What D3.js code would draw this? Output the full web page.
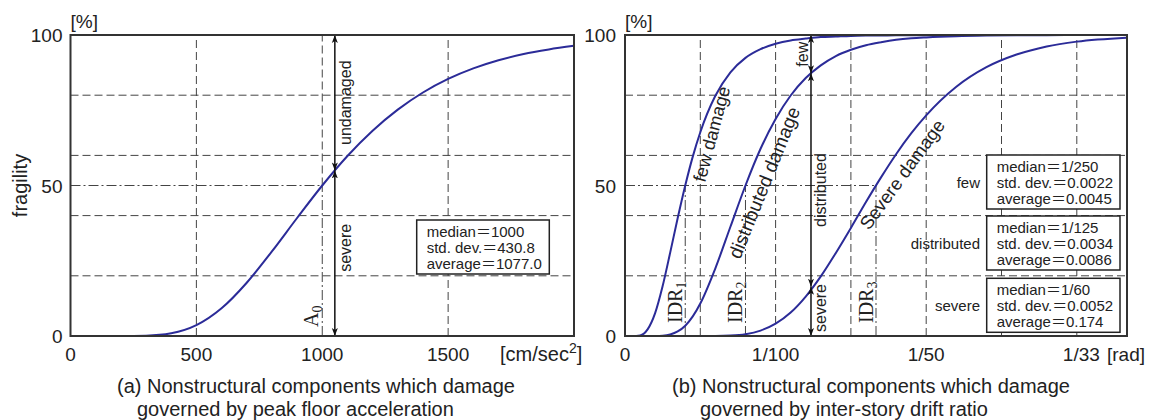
<!DOCTYPE html>
<html>
<head>
<meta charset="utf-8">
<script src="https://cdnjs.cloudflare.com/ajax/libs/d3/7.8.5/d3.min.js"></script>
<style>
  body { margin: 0; background: #fff; }
  svg text { font-family: "Liberation Sans", Arial, "Noto Sans CJK JP", sans-serif; fill: #222; }
  svg text.serif { font-family: "Liberation Serif", "Times New Roman", serif; }
</style>
</head>
<body>
<script>
// ---- data ----

// (a) peak floor acceleration [cm/sec2] vs fragility [%]
var accel = [0, 100, 200, 300, 400, 500, 600, 700, 800, 900, 1000, 1100, 1200, 1300, 1400, 1500, 1600, 1700, 1800, 1900, 2000];
var accelFragility = [0, 0, 0, 0.1, 0.9, 3.6, 9.2, 17.7, 28.1, 39.2, 50, 59.8, 68.2, 75.2, 80.9, 85.4, 88.9, 91.6, 93.7, 95.2, 96.4];
var accelTicks = [0, 500, 1000, 1500];
var accelGrid = [500, 1500];
var accelMedian = 1000;
var accelArrow = [1050, 55];   // x, fragility where the arrow meets the curve
var accelStats = ["median\uFF1D1000", "std. dev.\uFF1D430.8", "average\uFF1D1077.0"];

// (b) inter-story drift ratio [rad] vs fragility [%]
var drift = [0, 0.0005, 0.001, 0.0015, 0.002, 0.0025, 0.003, 0.0035, 0.004, 0.0045, 0.005, 0.006, 0.007, 0.008, 0.009, 0.010,
             0.011, 0.012, 0.013, 0.014, 0.015, 0.016, 0.017, 0.018, 0.019, 0.020, 0.022, 0.024, 0.026, 0.028, 0.030, 0.0333];
var fewFragility = [0, 0, 0.2, 2.2, 7.6, 16.6, 27.7, 39.2, 50, 59.6, 67.7, 79.8, 87.6, 92.4, 95.3, 97.1,
                    98.2, 98.8, 99.3, 99.5, 99.7, 99.8, 99.85, 99.9, 99.93, 99.95, 99.97, 99.99, 100, 100, 100, 100];
var distFragility = [0, 0, 0, 0, 0.01, 0.1, 0.5, 1.5, 3.4, 6.5, 10.8, 22.5, 36.3, 50, 62.2, 72.1,
                     79.9, 85.7, 89.9, 93.0, 95.1, 96.6, 97.6, 98.4, 98.9, 99.2, 99.6, 99.8, 99.9, 99.95, 99.98, 99.99];
var severeFragility = [0, 0, 0, 0, 0, 0, 0, 0, 0, 0, 0, 0.02, 0.15, 0.6, 1.8, 4.1,
                       7.8, 13.1, 19.8, 27.6, 35.9, 44.5, 52.7, 60.4, 67.3, 73.3, 82.8, 89.3, 93.5, 96.2, 97.8, 99.1];
var driftTicks = [0, 0.01, 0.02, 1 / 33];
var driftTickLabels = ["0", "1/100", "1/50", "1/33"];
var driftGrid = [0.005, 0.01, 0.015, 0.02, 0.025, 0.03];
var idrMedians = [0.004, 0.008, 1 / 60];
var driftArrowX = 0.01235;
var driftArrowStops = [100, 87.3, 16.4, 0];
var driftArrowLabels = ["few", "distributed", "severe"];
var driftStatLabels = ["few", "distributed", "severe"];
var driftStats = [
  ["median\uFF1D1/250", "std. dev.\uFF1D0.0022", "average\uFF1D0.0045"],
  ["median\uFF1D1/125", "std. dev.\uFF1D0.0034", "average\uFF1D0.0086"],
  ["median\uFF1D1/60", "std. dev.\uFF1D0.0052", "average\uFF1D0.174"]
];

var pctTicks = [0, 50, 100];
var pctGrid = [20, 40, 60, 80];

// ---- layout ----
var width = 1152, height = 420;
var plotTop = 35, plotBottom = 336;
var curveColor = "#2b2b98";
var gridColor = "#444";
var dash = "8,4", dashDot = "10,3,2,3";

var svg = d3.select("body").append("svg")
  .attr("width", width)
  .attr("height", height);

// arrow head marker
svg.append("defs").append("marker")
  .attr("id", "head")
  .attr("markerUnits", "userSpaceOnUse")
  .attr("markerWidth", 9).attr("markerHeight", 7)
  .attr("refX", 8).attr("refY", 3.5)
  .attr("orient", "auto-start-reverse")
  .append("path")
  .attr("d", "M0,0.5 L8,3.5 L0,6.5 L2,3.5 Z")
  .attr("fill", "#111");

var y = d3.scaleLinear().domain([0, 100]).range([plotBottom, plotTop]);

function hLine(g, x1, x2, v, style) {
  g.append("line").attr("x1", x1).attr("x2", x2).attr("y1", y(v)).attr("y2", y(v))
    .attr("stroke", gridColor).attr("stroke-width", 1).attr("stroke-dasharray", style);
}
function vLine(g, xv, v1, v2, style) {
  g.append("line").attr("x1", xv).attr("x2", xv).attr("y1", y(v1)).attr("y2", y(v2))
    .attr("stroke", gridColor).attr("stroke-width", 1).attr("stroke-dasharray", style);
}
function rotLabel(g, x0, y0, angle, txt, size, anchor) {
  return g.append("text")
    .attr("transform", "translate(" + x0 + "," + y0 + ") rotate(" + angle + ")")
    .attr("text-anchor", anchor || "start")
    .style("font-size", size + "px")
    .text(txt);
}
function subLabel(g, x0, y0, main, sub) {
  var t = g.append("text").attr("class", "serif")
    .attr("transform", "translate(" + x0 + "," + y0 + ") rotate(-90)")
    .style("font-size", "20px");
  t.append("tspan").text(main);
  t.append("tspan").attr("dy", 4).style("font-size", "14px").text(sub);
}
function arrow(g, xv, v1, v2) {
  g.append("line").attr("x1", xv).attr("x2", xv).attr("y1", y(v1)).attr("y2", y(v2))
    .attr("stroke", "#111").attr("stroke-width", 1.5)
    .attr("marker-start", "url(#head)").attr("marker-end", "url(#head)");
}
function statBox(g, x0, y0, w, h, lines) {
  g.append("rect").attr("x", x0).attr("y", y0).attr("width", w).attr("height", h)
    .attr("fill", "#fff").attr("stroke", "#222").attr("stroke-width", 1.5);
  lines.forEach(function(s, i) {
    g.append("text").attr("x", x0 + 10).attr("y", y0 + 16.5 + i * 16)
      .style("font-size", "15px").text(s);
  });
}

// ================= (a) acceleration =================
var xa = d3.scaleLinear().domain([0, 2000]).range([70.5, 574]);
var ga = svg.append("g");

accelGrid.forEach(function(v) { vLine(ga, xa(v), 0, 100, dash); });
vLine(ga, xa(accelMedian), 50, 100, dash);
vLine(ga, xa(accelMedian), 0, 50, dashDot);
pctGrid.forEach(function(v) { hLine(ga, xa(0), xa(2000), v, dash); });
hLine(ga, xa(0), xa(accelMedian), 50, dashDot);

ga.append("path")
  .datum(accel.map(function(d, i) { return [d, accelFragility[i]]; }))
  .attr("fill", "none").attr("stroke", curveColor).attr("stroke-width", 2)
  .attr("d", d3.line().x(function(d) { return xa(d[0]); }).y(function(d) { return y(d[1]); }).curve(d3.curveMonotoneX));

arrow(ga, xa(accelArrow[0]), 100, accelArrow[1]);
arrow(ga, xa(accelArrow[0]), accelArrow[1], 0);
rotLabel(ga, xa(accelArrow[0]) + 16, y(77.5), -90, "undamaged", 16, "middle");
rotLabel(ga, xa(accelArrow[0]) + 16, y(29.3), -90, "severe", 16, "middle");
subLabel(ga, xa(accelMedian) - 4, y(3), "A", "0");

statBox(ga, 416.7, 220, 132.6, 54, accelStats);

ga.append("rect").attr("x", xa(0)).attr("y", plotTop).attr("width", xa(2000) - xa(0)).attr("height", plotBottom - plotTop)
  .attr("fill", "none").attr("stroke", "#333").attr("stroke-width", 2);

pctTicks.forEach(function(v) {
  ga.append("text").attr("x", xa(0) - 8).attr("y", y(v) + 7).attr("text-anchor", "end")
    .style("font-size", "19px").text(v);
});
accelTicks.forEach(function(v) {
  ga.append("text").attr("x", xa(v)).attr("y", 361).attr("text-anchor", "middle")
    .style("font-size", "19px").text(v);
});
var ua = ga.append("text").attr("x", 500).attr("y", 361).style("font-size", "20px");
ua.append("tspan").text("[cm/sec");
ua.append("tspan").attr("dy", -8).style("font-size", "14px").text("2");
ua.append("tspan").attr("dy", 8).text("]");
ga.append("text").attr("x", xa(0)).attr("y", 28).style("font-size", "19px").text("[%]");
rotLabel(ga, 27, y(50), -90, "fragility", 20, "middle");

ga.append("text").attr("x", 117).attr("y", 393).style("font-size", "20px")
  .text("(a) Nonstructural components which damage");
ga.append("text").attr("x", 137).attr("y", 416).style("font-size", "20px")
  .text("governed by peak floor acceleration");

// ================= (b) drift ratio =================
var xb = d3.scaleLinear().domain([0, 1 / 30]).range([625, 1127]);
var gb = svg.append("g");

driftGrid.forEach(function(v) { vLine(gb, xb(v), 0, 100, dash); });
pctGrid.forEach(function(v) { hLine(gb, xb(0), xb(1 / 30), v, dash); });
hLine(gb, xb(0), xb(idrMedians[2]), 50, dashDot);
idrMedians.forEach(function(v) { vLine(gb, xb(v), 0, 50, dashDot); });

var lineB = d3.line().x(function(d) { return xb(d[0]); }).y(function(d) { return y(d[1]); }).curve(d3.curveMonotoneX);
[fewFragility, distFragility, severeFragility].forEach(function(series) {
  gb.append("path")
    .datum(drift.map(function(d, i) { return [d, series[i]]; }))
    .attr("fill", "none").attr("stroke", curveColor).attr("stroke-width", 2)
    .attr("d", lineB);
});

rotLabel(gb, 705, 183, -75, "few damage", 18);
rotLabel(gb, 740, 260, -68, "distributed damage", 19);
rotLabel(gb, 869, 231, -54, "Severe damage", 18.5);

for (var k = 0; k < 3; k++) {
  arrow(gb, xb(driftArrowX), driftArrowStops[k], driftArrowStops[k + 1]);
}
rotLabel(gb, xb(driftArrowX) - 3, y(93.6), -90, driftArrowLabels[0], 16, "middle");
rotLabel(gb, xb(driftArrowX) + 15, y(48.5), -90, driftArrowLabels[1], 16, "middle");
rotLabel(gb, xb(driftArrowX) + 15, y(9.3), -90, driftArrowLabels[2], 16, "middle");

subLabel(gb, xb(idrMedians[0]) - 3, 323, "IDR", "1");
subLabel(gb, xb(idrMedians[1]) - 3, 323, "IDR", "2");
subLabel(gb, xb(idrMedians[2]) - 3, 323, "IDR", "3");

var boxTops = [155, 216, 278.3];
driftStats.forEach(function(lines, i) {
  statBox(gb, 986.7, boxTops[i], 133.3, 54, lines);
  gb.append("text").attr("x", 980).attr("y", boxTops[i] + 33).attr("text-anchor", "end")
    .style("font-size", "15px").text(driftStatLabels[i]);
});

gb.append("rect").attr("x", xb(0)).attr("y", plotTop).attr("width", xb(1 / 30) - xb(0)).attr("height", plotBottom - plotTop)
  .attr("fill", "none").attr("stroke", "#333").attr("stroke-width", 2);

pctTicks.forEach(function(v) {
  gb.append("text").attr("x", xb(0) - 9).attr("y", y(v) + 7).attr("text-anchor", "end")
    .style("font-size", "19px").text(v);
});
driftTicks.forEach(function(v, i) {
  gb.append("text").attr("x", xb(v)).attr("y", 361).attr("text-anchor", "middle")
    .style("font-size", "19px").text(driftTickLabels[i]);
});
gb.append("text").attr("x", 1107).attr("y", 361).style("font-size", "19px").text("[rad]");
gb.append("text").attr("x", xb(0)).attr("y", 28).style("font-size", "19px").text("[%]");

gb.append("text").attr("x", 672).attr("y", 393).style("font-size", "20px")
  .text("(b) Nonstructural components which damage");
gb.append("text").attr("x", 700).attr("y", 416).style("font-size", "20px")
  .text("governed by inter-story drift ratio");
</script>
</body>
</html>
